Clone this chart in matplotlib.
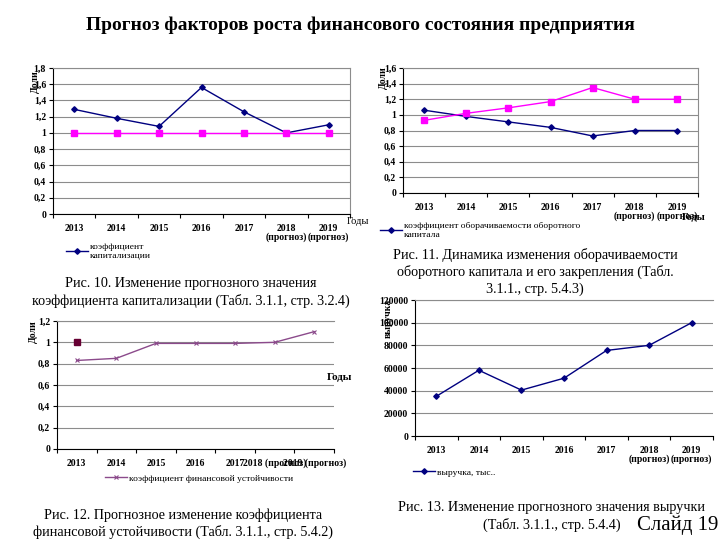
import matplotlib
matplotlib.use('Agg')
import matplotlib.pyplot as plt
import numpy as np
from matplotlib.ticker import FuncFormatter

plt.rcParams['font.family'] = ['Liberation Serif', 'DejaVu Serif']

# data
years = ['2013', '2014', '2015', '2016', '2017', '2018\n(прогноз)', '2019\n(прогноз)']
years_flat = ['2013', '2014', '2015', '2016', '2017', '2018 (прогноз)', '2019 (прогноз)']

kapit = [1.29, 1.18, 1.08, 1.56, 1.26, 1.00, 1.10]
kapit_norm = [1.00, 1.00, 1.00, 1.00, 1.00, 1.00, 1.00]

oborach = [1.06, 0.98, 0.91, 0.84, 0.73, 0.80, 0.80]
zakrepl = [0.93, 1.02, 1.09, 1.17, 1.35, 1.20, 1.20]

ustoich = [0.83, 0.85, 0.99, 0.99, 0.99, 1.00, 1.10]
ustoich_norm = [1.00]

vyruchka = [35000, 58000, 40500, 51000, 75500, 80000, 100000]

NAVY = '#000080'
MAGENTA = '#FF00FF'
MAUVE = '#8B4A8B'
MAROON = '#660033'
GRID = '#8c8c8c'

W, H = 720, 540
fig = plt.figure(figsize=(7.2, 5.4), dpi=100)


def px_axes(x0, y0, x1, y1):
    return fig.add_axes([x0 / W, 1 - y1 / H, (x1 - x0) / W, (y1 - y0) / H])


def px_text(x, y, s, **kw):
    fig.text(x / W, 1 - y / H, s, **kw)


def comma(v, pos):
    s = ('%.1f' % v).rstrip('0').rstrip('.')
    return s.replace('.', ',')


def plain(v, pos):
    return '%d' % v


def style(ax, ymax, ystep, labels, fmt, right=True):
    ax.set_xlim(-0.5, 6.5)
    ax.set_ylim(0, ymax)
    ax.set_yticks(np.arange(0, ymax + ystep / 2, ystep))
    ax.yaxis.set_major_formatter(FuncFormatter(fmt))
    ax.set_xticks(range(7))
    ax.set_xticklabels(labels, fontsize=7, fontweight='bold', va='top', linespacing=1.0)
    ax.set_xticks(np.arange(-0.5, 7, 1), minor=True)
    ax.tick_params(axis='x', which='major', length=0, pad=7)
    ax.tick_params(axis='x', which='minor', length=3, width=0.8)
    ax.tick_params(axis='y', length=3, width=0.8, labelsize=7, pad=2)
    for t in ax.get_yticklabels():
        t.set_fontweight('bold')
    ax.grid(axis='y', color=GRID, lw=0.8)
    ax.set_axisbelow(True)
    ax.spines['left'].set_color('black')
    ax.spines['bottom'].set_color('black')
    ax.spines['left'].set_linewidth(0.8)
    ax.spines['bottom'].set_linewidth(0.8)
    ax.spines['top'].set_color(GRID)
    ax.spines['top'].set_linewidth(0.8)
    if right:
        ax.spines['right'].set_color(GRID)
        ax.spines['right'].set_linewidth(0.8)
    else:
        ax.spines['right'].set_visible(False)


def legend(ax, handle, label, x, y):
    ax.legend([handle], [label], loc='upper left', bbox_to_anchor=(x / W, 1 - y / H),
              bbox_transform=fig.transFigure, frameon=False, fontsize=6.8,
              handlelength=2.3, handletextpad=0.2, borderpad=0, borderaxespad=0)


def caption(xc, ys, lines, size=10.2):
    for yy, s in zip(ys, lines):
        px_text(xc, yy, s, ha='center', va='center', fontsize=size)


x = np.arange(7)

# title
px_text(360, 25, 'Прогноз факторов роста финансового состояния предприятия',
        ha='center', va='center', fontsize=14, fontweight='bold')

# Рис. 10
ax1 = px_axes(53, 68, 350, 214)
style(ax1, 1.8, 0.2, years, comma)
l1, = ax1.plot(x, kapit, color=NAVY, lw=1, marker='D', ms=2.8)
ax1.plot(x, kapit_norm, color=MAGENTA, lw=1, marker='s', ms=4.5)
legend(ax1, l1, 'коэффициент\nкапитализации', 66, 243)
px_text(35, 82, 'Доли', rotation=90, ha='center', va='center', fontsize=7, fontweight='bold')
px_text(347, 222, 'Годы', ha='left', va='center', fontsize=7.5)
caption(191, [284, 301], ['Рис. 10. Изменение прогнозного значения',
                           'коэффициента капитализации (Табл. 3.1.1, стр. 3.2.4)'])

# Рис. 11
ax2 = px_axes(403, 68, 698, 193)
style(ax2, 1.6, 0.2, years, comma)
l2, = ax2.plot(x, oborach, color=NAVY, lw=1, marker='D', ms=2.8)
ax2.plot(x, zakrepl, color=MAGENTA, lw=1, marker='s', ms=4.5)
legend(ax2, l2, 'коэффициент оборачиваемости оборотного\nкапитала', 380, 222)
px_text(383, 78, 'Доли', rotation=90, ha='center', va='center', fontsize=7, fontweight='bold')
px_text(682, 217, 'Годы', ha='left', va='center', fontsize=7.5, fontweight='bold')
caption(535, [255, 272, 289], ['Рис. 11. Динамика изменения оборачиваемости',
                                'оборотного капитала и его закрепления (Табл.',
                                '3.1.1., стр. 5.4.3)'])

# Рис. 12
ax3 = px_axes(57, 321, 334, 449)
style(ax3, 1.2, 0.2, years_flat, comma, right=False)
l3, = ax3.plot(x, ustoich, color=MAUVE, lw=1, marker='x', ms=3.5, mew=0.8)
ax3.plot(x[:1], ustoich_norm, color=MAROON, lw=0, marker='s', ms=4.5)
legend(ax3, l3, 'коэффициент финансовой устойчивости', 105, 474)
px_text(33, 332, 'Доли', rotation=90, ha='center', va='center', fontsize=7, fontweight='bold')
px_text(327, 377, 'Годы', ha='left', va='center', fontsize=8, fontweight='bold')
caption(183, [515, 532], ['Рис. 12. Прогнозное изменение коэффициента',
                           'финансовой устойчивости (Табл. 3.1.1., стр. 5.4.2)'])

# Рис. 13
ax4 = px_axes(415, 300, 713, 436)
style(ax4, 120000, 20000, years, plain, right=False)
l4, = ax4.plot(x, vyruchka, color=NAVY, lw=1, marker='D', ms=2.8)
legend(ax4, l4, 'выручка, тыс..', 413, 468)
px_text(388, 318, 'выручка', rotation=90, ha='center', va='center', fontsize=7, fontweight='bold')
caption(552, [508, 525], ['Рис. 13. Изменение прогнозного значения выручки',
                           '(Табл. 3.1.1., стр. 5.4.4)'])
px_text(637, 525, 'Слайд 19', ha='left', va='center', fontsize=15)

plt.savefig('out.png', dpi=100)
